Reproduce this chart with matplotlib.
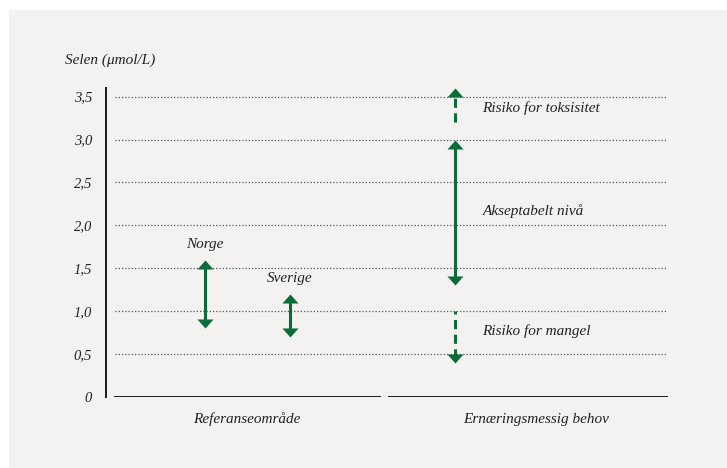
import matplotlib
matplotlib.use("Agg")
import matplotlib.pyplot as plt
from matplotlib.patches import Rectangle
from matplotlib.path import Path

# data
y_ticks = [0, 0.5, 1.0, 1.5, 2.0, 2.5, 3.0, 3.5]
y_labels = ["0", "0,5", "1,0", "1,5", "2,0", "2,5", "3,0", "3,5"]
ref_names = ["Norge", "Sverige"]
ref_low = [0.8, 0.7]
ref_high = [1.6, 1.2]
need_names = ["Risiko for toksisitet", "Akseptabelt nivå", "Risiko for mangel"]
need_low = [3.2, 1.3, 0.4]
need_high = [3.6, 3.0, 1.0]
need_style = ["up", "both", "down"]
groups = ["Referanseområde", "Ernæringsmessig behov"]

green = "#0b6b3a"
txt = "#222222"
bg = "#f3f2f0"
font = dict(family="Liberation Serif", style="italic", color=txt)

fig = plt.figure(figsize=(7.27, 4.68), dpi=100, facecolor="white")
fig.patches.append(Rectangle((9 / 727, 0), 1, 458 / 468, transform=fig.transFigure,
                             facecolor=bg, edgecolor="none", zorder=-10))

ax = fig.add_axes([106 / 727, 71 / 468, 562 / 727, 309 / 468])
ax.set_zorder(5)
ax.set_facecolor("none")
ax.set_xlim(0, 1)
ax.set_ylim(0, 3.6)
for s in ax.spines.values():
    s.set_visible(False)
ax.set_xticks([])
ax.set_yticks(y_ticks)
ax.set_yticklabels(y_labels, fontsize=10.5, **font)
ax.tick_params(axis="y", length=0, pad=10)

# y axis line
ax.plot([0, 0], [0, 3.6], color="#1a1a1a", lw=1.4, clip_on=False)

# gridlines
for t in y_ticks[1:]:
    ax.plot([0.016, 1.0], [t, t], color="#555555", lw=0.9, ls=(0, (1, 1.6)))

# baselines
ax.plot([0.016, 0.487], [0, 0], color="#1a1a1a", lw=1.4)
ax.plot([0.503, 1.0], [0, 0], color="#1a1a1a", lw=1.4)

up_head = Path([(-8, -9), (8, -9), (0, 0), (-8, -9)],
               [Path.MOVETO, Path.LINETO, Path.LINETO, Path.CLOSEPOLY])
down_head = Path([(-8, 9), (8, 9), (0, 0), (-8, 9)],
                 [Path.MOVETO, Path.LINETO, Path.LINETO, Path.CLOSEPOLY])
hs = 13
shaft_off = 0.06


def arrow(x, lo, hi, kind, dashed):
    ls = (0, (3.0, 1.8)) if dashed else "-"
    y0 = lo + (shaft_off if kind in ("both", "down") else 0)
    y1 = hi - (shaft_off if kind in ("both", "up") else 0)
    ax.plot([x, x], [y0, y1], color=green, lw=2.2, ls=ls, solid_capstyle="butt")
    if kind in ("both", "up"):
        ax.plot([x], [hi], marker=up_head, ms=hs, color=green, mec=green, mew=0, clip_on=False)
    if kind in ("both", "down"):
        ax.plot([x], [lo], marker=down_head, ms=hs, color=green, mec=green, mew=0, clip_on=False)


ref_x = [0.176, 0.327]
for name, x, lo, hi in zip(ref_names, ref_x, ref_low, ref_high):
    arrow(x, lo, hi, "both", False)
    ax.text(x, hi + 0.1, name, ha="center", va="bottom", fontsize=11, **font)

need_x = 0.621
label_y = [3.37, 2.17, 0.77]
for name, lo, hi, kind, ly in zip(need_names, need_low, need_high, need_style, label_y):
    arrow(need_x, lo, hi, kind, kind != "both")
    ax.text(0.67, ly, name, ha="left", va="center", fontsize=11, **font)

ax.text(0.25, -0.26, groups[0], ha="center", va="center", fontsize=11, **font)
ax.text(0.765, -0.26, groups[1], ha="center", va="center", fontsize=11, **font)

fig.text(65 / 727, 1 - 60 / 468, "Selen (μmol/L)", ha="left", va="center", fontsize=11,
         family=["Liberation Serif", "DejaVu Serif"], style="italic", color=txt)

fig.savefig("out.png", dpi=100, facecolor=fig.get_facecolor())
